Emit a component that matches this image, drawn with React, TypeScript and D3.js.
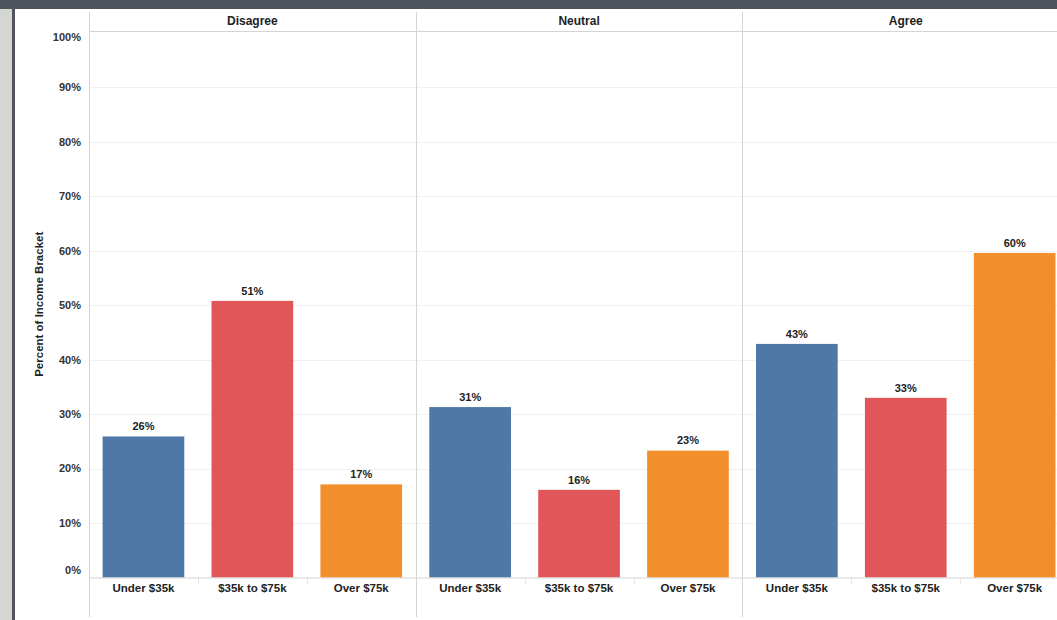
import React from "react";
import * as d3 from "d3";

const panels = ["Disagree", "Neutral", "Agree"];
const brackets = ["Under $35k", "$35k to $75k", "Over $75k"];
const disagreeValues = [25.9, 50.8, 17.1];
const neutralValues = [31.3, 16.1, 23.3];
const agreeValues = [42.9, 33.0, 59.6];
const panelValues = [disagreeValues, neutralValues, agreeValues];
const yTicks = [0, 10, 20, 30, 40, 50, 60, 70, 80, 90, 100];
const colors = ["#4e79a7", "#e15759", "#f28e2b"];

export default function App() {
  const W = 1057, H = 620;
  const axisX = 89;
  const panelW = 326.7;
  const y = d3.scaleLinear().domain([0, 100]).range([577.5, 33]);
  const panelScale = d3.scaleBand<string>().domain(panels).range([axisX, axisX + panelW * 3]);
  const band = d3.scaleBand<string>().domain(brackets).range([0, panelW]).paddingInner(0.25).paddingOuter(0.125);
  const font = "'Liberation Sans', Arial, sans-serif";
  const top = 12, headerLine = 31.5, bottom = 617;
  const labelY = (t: number) => (t === 100 ? y(t) + 4 : t === 0 ? y(t) - 7 : y(t));

  return (
    <div style={{ position: "fixed", left: 0, top: 0, width: W, height: H, background: "#fff" }}>
      <svg width={W} height={H} style={{ display: "block", fontFamily: font }}>
        <rect x={0} y={0} width={W} height={H} fill="#fff" />
        <rect x={0} y={0} width={W} height={9} fill="#4f535b" />
        <rect x={0} y={9} width={12} height={H - 9} fill="#d5d6d1" />
        <rect x={12} y={9} width={3} height={H - 9} fill="#4f535b" />
        {/* gridlines */}
        {yTicks.slice(1, -1).map((t) => (
          <line key={t} x1={axisX} x2={W} y1={Math.round(y(t)) + 0.5} y2={Math.round(y(t)) + 0.5} stroke="#f0f0f0" strokeWidth={1} />
        ))}
        {/* header line */}
        <line x1={axisX} x2={W} y1={headerLine} y2={headerLine} stroke="#d4d4d4" />
        {/* y tick labels */}
        {yTicks.map((t) => (
          <text key={t} x={81} y={labelY(t)} dy="0.35em" textAnchor="end" fontSize={11} fontWeight="bold" fill="#333">
            {t}%
          </text>
        ))}
        <text transform={`translate(43,${y(50) - 1}) rotate(-90)`} textAnchor="middle" fontSize={11.5} fontWeight="bold" fill="#222">
          Percent of Income Bracket
        </text>
        {panels.map((p, pi) => {
          const px = panelScale(p) as number;
          return (
            <g key={p}>
              <text x={px + panelW / 2} y={21} dy="0.35em" textAnchor="middle" fontSize={12} fontWeight="bold" fill="#222">
                {p}
              </text>
              {brackets.map((b, bi) => {
                const v = panelValues[pi][bi];
                const bx = px + (band(b) as number);
                return (
                  <g key={b}>
                    <rect x={bx} y={y(v)} width={band.bandwidth()} height={y(0) - y(v)} fill={colors[bi]} />
                    <text x={bx + band.bandwidth() / 2} y={y(v) - 10} dy="0.35em" textAnchor="middle" fontSize={11} fontWeight="bold" fill="#222">
                      {Math.round(v)}%
                    </text>
                    <text x={bx + band.bandwidth() / 2} y={588} dy="0.35em" textAnchor="middle" fontSize={11.5} fontWeight="bold" fill="#222">
                      {b}
                    </text>
                  </g>
                );
              })}
              {[1, 2].map((k) => (
                <line key={k} x1={Math.round(px + (panelW / 3) * k) + 0.5} x2={Math.round(px + (panelW / 3) * k) + 0.5} y1={578} y2={584} stroke="#e6e6e6" />
              ))}
              {pi > 0 && (
                <line x1={Math.round(px) + 0.5} x2={Math.round(px) + 0.5} y1={top} y2={bottom} stroke="#d4d4d4" />
              )}
            </g>
          );
        })}
        {/* baseline */}
        <line x1={axisX} x2={W} y1={578} y2={578} stroke="#d4d4d4" />
        {/* axis line */}
        <line x1={axisX + 0.5} x2={axisX + 0.5} y1={top} y2={bottom} stroke="#d4d4d4" />
      </svg>
    </div>
  );
}
